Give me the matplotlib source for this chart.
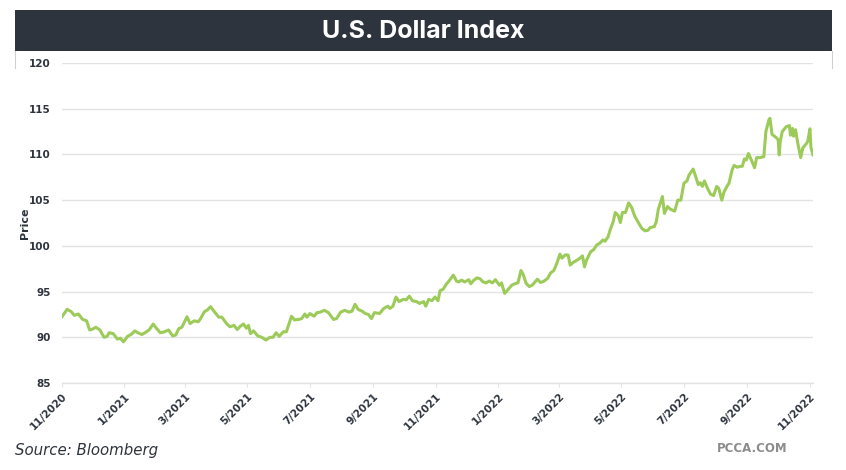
import matplotlib
matplotlib.use("Agg")
import matplotlib.pyplot as plt
import numpy as np
import pandas as pd
from matplotlib.patches import Rectangle
from matplotlib.lines import Line2D

# ---------------- data ----------------
dates = [
    "2020-11-01", "2020-11-06", "2020-11-10", "2020-11-13", "2020-11-17", "2020-11-21", "2020-11-25", "2020-11-28",
    "2020-12-01", "2020-12-04", "2020-12-08", "2020-12-12", "2020-12-15", "2020-12-17", "2020-12-21", "2020-12-25",
    "2020-12-28", "2020-12-31", "2021-01-04", "2021-01-08", "2021-01-11", "2021-01-14", "2021-01-18", "2021-01-21",
    "2021-01-25", "2021-01-29", "2021-02-01", "2021-02-05", "2021-02-09", "2021-02-13", "2021-02-17", "2021-02-20",
    "2021-02-23", "2021-02-26", "2021-03-03", "2021-03-06", "2021-03-10", "2021-03-14", "2021-03-16", "2021-03-20",
    "2021-03-23", "2021-03-26", "2021-03-29", "2021-04-03", "2021-04-06", "2021-04-11", "2021-04-14", "2021-04-18",
    "2021-04-21", "2021-04-24", "2021-04-27", "2021-04-30", "2021-05-02", "2021-05-04", "2021-05-07", "2021-05-11",
    "2021-05-15", "2021-05-19", "2021-05-23", "2021-05-26", "2021-05-29", "2021-06-01", "2021-06-05", "2021-06-08",
    "2021-06-13", "2021-06-16", "2021-06-20", "2021-06-23", "2021-06-26", "2021-06-28", "2021-07-01", "2021-07-05",
    "2021-07-08", "2021-07-11", "2021-07-15", "2021-07-19", "2021-07-24", "2021-07-27", "2021-07-31", "2021-08-04",
    "2021-08-08", "2021-08-11", "2021-08-14", "2021-08-17", "2021-08-21", "2021-08-24", "2021-08-27", "2021-08-30",
    "2021-09-02", "2021-09-07", "2021-09-11", "2021-09-15", "2021-09-17", "2021-09-20", "2021-09-23", "2021-09-26",
    "2021-09-30", "2021-10-03", "2021-10-06", "2021-10-09", "2021-10-13", "2021-10-16", "2021-10-20", "2021-10-22",
    "2021-10-25", "2021-10-28", "2021-10-31", "2021-11-03", "2021-11-05", "2021-11-08", "2021-11-11", "2021-11-13",
    "2021-11-15", "2021-11-18", "2021-11-21", "2021-11-23", "2021-11-26", "2021-11-29", "2021-12-03", "2021-12-05",
    "2021-12-08", "2021-12-11", "2021-12-14", "2021-12-17", "2021-12-20", "2021-12-23", "2021-12-26", "2021-12-29",
    "2022-01-02", "2022-01-04", "2022-01-07", "2022-01-11", "2022-01-14", "2022-01-18", "2022-01-20", "2022-01-23",
    "2022-01-25", "2022-01-28", "2022-01-31", "2022-02-03", "2022-02-08", "2022-02-11", "2022-02-14", "2022-02-18",
    "2022-02-21", "2022-02-24", "2022-02-27", "2022-03-02", "2022-03-04", "2022-03-07", "2022-03-10", "2022-03-12",
    "2022-03-15", "2022-03-19", "2022-03-22", "2022-03-24", "2022-03-26", "2022-03-28", "2022-04-01", "2022-04-04",
    "2022-04-07", "2022-04-10", "2022-04-13", "2022-04-15", "2022-04-18", "2022-04-20", "2022-04-23", "2022-04-25",
    "2022-04-28", "2022-04-30", "2022-05-02", "2022-05-05", "2022-05-08", "2022-05-11", "2022-05-14", "2022-05-17",
    "2022-05-21", "2022-05-24", "2022-05-27", "2022-05-29", "2022-06-02", "2022-06-04", "2022-06-06", "2022-06-10",
    "2022-06-12", "2022-06-15", "2022-06-18", "2022-06-22", "2022-06-25", "2022-06-28", "2022-07-01", "2022-07-04",
    "2022-07-06", "2022-07-10", "2022-07-12", "2022-07-15", "2022-07-17", "2022-07-19", "2022-07-21", "2022-07-24",
    "2022-07-27", "2022-07-30", "2022-08-02", "2022-08-04", "2022-08-07", "2022-08-09", "2022-08-12", "2022-08-14",
    "2022-08-17", "2022-08-19", "2022-08-22", "2022-08-25", "2022-08-27", "2022-08-29", "2022-08-31", "2022-09-02",
    "2022-09-05", "2022-09-08", "2022-09-10", "2022-09-13", "2022-09-17", "2022-09-19", "2022-09-22", "2022-09-23",
    "2022-09-25", "2022-09-29", "2022-10-01", "2022-10-02", "2022-10-03", "2022-10-05", "2022-10-09", "2022-10-12",
    "2022-10-13", "2022-10-15", "2022-10-16", "2022-10-18", "2022-10-20", "2022-10-23", "2022-10-25", "2022-10-29",
    "2022-10-30", "2022-11-01", "2022-11-02", "2022-11-04",
]
prices = [
    92.25, 93.06, 92.8, 92.4, 92.55, 91.97, 91.8, 90.8,
    90.9, 91.1, 90.8, 90.0, 90.1, 90.5, 90.4, 89.8,
    89.9, 89.5, 90.1, 90.35, 90.7, 90.5, 90.3, 90.5,
    90.8, 91.45, 91.0, 90.5, 90.6, 90.8, 90.15, 90.25,
    90.95, 91.1, 92.25, 91.5, 91.8, 91.7, 92.0, 92.8,
    93.0, 93.35, 92.9, 92.2, 92.2, 91.45, 91.15, 91.3,
    90.85, 91.2, 91.45, 91.0, 91.3, 90.4, 90.7, 90.15,
    90.0, 89.7, 90.0, 90.0, 90.5, 90.1, 90.6, 90.6,
    92.3, 91.9, 91.95, 92.05, 92.55, 92.2, 92.6, 92.3,
    92.7, 92.75, 92.95, 92.7, 91.95, 92.05, 92.75, 92.95,
    92.75, 92.85, 93.6, 93.05, 92.85, 92.6, 92.5, 92.05,
    92.7, 92.6, 93.15, 93.4, 93.15, 93.4, 94.4, 93.9,
    94.15, 94.1, 94.5, 94.0, 93.9, 93.7, 93.9, 93.4,
    94.15, 94.0, 94.4, 94.0, 95.1, 95.25, 95.8, 96.05,
    96.35, 96.8, 96.15, 96.05, 96.25, 96.05, 96.3, 95.85,
    96.25, 96.5, 96.4, 96.05, 95.95, 96.15, 95.95, 96.3,
    95.7, 95.95, 94.8, 95.3, 95.7, 95.9, 95.95, 97.3,
    96.9, 95.9, 95.55, 95.7, 96.35, 96.0, 96.1, 96.45,
    97.05, 97.3, 98.1, 99.1, 98.65, 99.0, 99.0, 97.9,
    98.2, 98.45, 98.7, 98.9, 97.7, 98.45, 99.35, 99.6,
    100.1, 100.3, 100.65, 100.5, 101.0, 101.75, 102.65, 103.65,
    103.3, 102.55, 103.65, 103.65, 104.7, 104.2, 103.25, 102.65,
    101.9, 101.65, 101.7, 102.0, 102.1, 102.6, 104.0, 105.4,
    103.55, 104.3, 104.0, 103.8, 105.0, 105.0, 106.85, 107.1,
    107.75, 108.4, 107.75, 106.7, 106.9, 106.5, 107.1, 106.3,
    105.65, 105.5, 106.5, 106.3, 105.0, 105.85, 106.5, 106.85,
    108.3, 108.8, 108.6, 108.7, 108.7, 109.5, 109.4, 110.1,
    109.35, 108.55, 109.65, 109.65, 109.75, 112.5, 113.8, 113.95,
    112.2, 111.85, 111.6, 109.95, 111.4, 112.5, 113.05, 113.15,
    112.1, 112.85, 112.0, 112.7, 111.3, 109.65, 110.7, 111.25,
    111.5, 112.8, 110.75, 109.95,
]
tick_dates = ["2020-11-01", "2021-01-01", "2021-03-01", "2021-05-01", "2021-07-01", "2021-09-01",
              "2021-11-01", "2022-01-01", "2022-03-01", "2022-05-01", "2022-07-01", "2022-09-01",
              "2022-11-01"]
tick_labels = ["11/2020", "1/2021", "3/2021", "5/2021", "7/2021", "9/2021", "11/2021",
               "1/2022", "3/2022", "5/2022", "7/2022", "9/2022", "11/2022"]
y_ticks = [85, 90, 95, 100, 105, 110, 115, 120]

title = "U.S. Dollar Index"
y_label = "Price"
source = "Source: Bloomberg"
brand = "PCCA.COM"

# ---------------- style ----------------
W, H = 846, 470
DARK = "#2e343e"
GREEN = "#9dcb5a"
GRID = "#e3e3e3"

fig = plt.figure(figsize=(W / 100, H / 100), dpi=100)
fig.patch.set_facecolor("white")

def fx(px):
    return px / W

def fy(py):
    return 1 - py / H

# title bar
fig.patches.append(Rectangle((fx(15), fy(51)), fx(832) - fx(15), fy(10) - fy(51),
                             transform=fig.transFigure, facecolor=DARK, edgecolor="none", zorder=0))
for xpx in (15, 832):
    fig.lines.append(Line2D([fx(xpx), fx(xpx)], [fy(51), fy(68)], transform=fig.transFigure,
                            color="#d0d0d0", lw=0.8))
fig.text(0.5, fy(31), title, ha="center", va="center", color="white",
         fontsize=18, fontweight="bold", family="Inter")

# axes
ax = fig.add_axes([fx(62), fy(383), fx(813) - fx(62), fy(63) - fy(383)])
x = pd.to_datetime(dates)
ax.plot(x, prices, color=GREEN, lw=2.2, solid_joinstyle="round", zorder=3)

ax.set_ylim(85, 120)
ax.set_yticks(y_ticks)
ax.set_xlim(pd.Timestamp("2020-11-01"), pd.Timestamp("2022-11-04"))
ax.set_xticks(pd.to_datetime(tick_dates))
ax.set_xticklabels(tick_labels, rotation=45, ha="right", va="top", rotation_mode="anchor")

ax.grid(axis="y", color=GRID, lw=1.0)
ax.set_axisbelow(True)
for s in ("top", "right", "left"):
    ax.spines[s].set_visible(False)
ax.spines["bottom"].set_color(GRID)
ax.spines["bottom"].set_linewidth(1.0)
ax.tick_params(axis="y", length=0, pad=8, labelsize=7.5, labelcolor=DARK)
ax.tick_params(axis="x", length=3, color=GRID, pad=3, labelsize=7.5, labelcolor=DARK)
for lab in ax.get_yticklabels() + ax.get_xticklabels():
    lab.set_fontweight("bold")
    lab.set_family("DejaVu Sans")

ax.set_ylabel(y_label, fontsize=8, fontweight="bold", color=DARK)
ax.yaxis.set_label_coords((30 - 62) / (813 - 62), 0.5)

fig.text(fx(15), fy(450), source, ha="left", va="center", fontsize=10.8, style="italic",
         color=DARK, family="DejaVu Sans")
fig.text(fx(752), fy(449), brand, ha="center", va="center", fontsize=8.5, color="#8c8c8c",
         family="DejaVu Sans", fontweight="bold")

fig.savefig("out.png", dpi=100, facecolor="white")
